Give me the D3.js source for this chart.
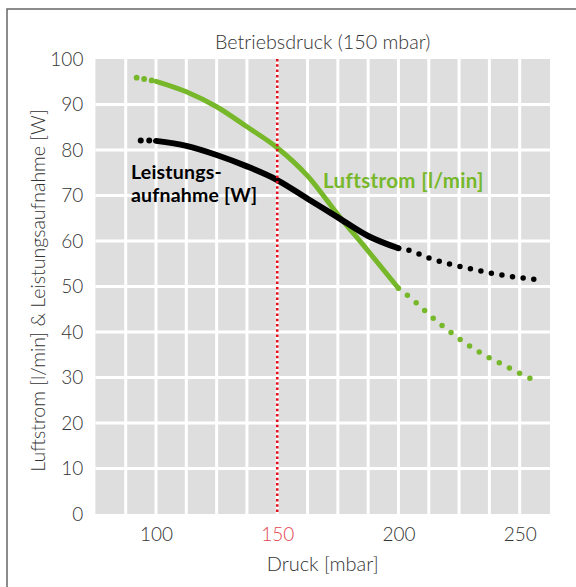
<!DOCTYPE html>
<html><head><meta charset="utf-8">
<script src="https://cdn.jsdelivr.net/npm/d3@7"></script>
<style>
html,body{margin:0;padding:0;background:#fff;}
svg{display:block;}
text{font-family:"Lato","Open Sans",sans-serif;}
</style></head>
<body>
<svg id="c" width="576" height="587"></svg>
<script>
// ---- data ----
const xTicks = [100, 150, 200, 250];
const yTicks = [0, 10, 20, 30, 40, 50, 60, 70, 80, 90, 100];
const xGrid = [87.5, 100, 112.5, 125, 137.5, 150, 162.5, 175, 187.5, 200, 212.5, 225, 237.5, 250];
const yGrid = [10, 20, 30, 40, 50, 60, 70, 80, 90];

const pressure = [100, 112.5, 125, 137.5, 150, 162.5, 175, 187.5, 200];
const luftstrom = [95.1, 92.8, 89.5, 85.1, 80.5, 74.3, 65.8, 57.8, 49.6];
const leistung = [82.0, 80.9, 78.9, 76.4, 73.4, 69.3, 65.2, 61.1, 58.4];

const luftStartP = [92, 95.1, 98.2];
const luftStartV = [95.9, 95.6, 95.3];
const leistStartP = [93.7, 97.2];
const leistStartV = [82.1, 82.1];

const luftTailP = [200, 206.1, 212.9, 220, 227.5, 235.2, 242.4, 250.4, 254.3];
const luftTailV = [49.6, 47.0, 43.7, 40.6, 37.6, 35.0, 33.0, 30.8, 29.8];
const leistTailP = [200, 203.5, 211.8, 220.6, 229.6, 238.5, 247.6, 255.9];
const leistTailV = [58.4, 58.1, 56.4, 55.0, 53.9, 52.9, 52.1, 51.6];

const operatingPressure = 150;

// ---- drawing ----
const svg = d3.select("#c");
const x = d3.scaleLinear().domain([75, 262.5]).range([95.4, 550]);
const y = d3.scaleLinear().domain([0, 100]).range([514, 59]);

const GREEN = "#76b82a";
const TXT = "#333";

// frame
svg.append("path").attr("d", "M7,600 L7,9 L600,9").attr("fill", "none")
  .attr("stroke", "#666").attr("stroke-width", 1.5);

// plot background
svg.append("rect").attr("x", x(75)).attr("y", y(100))
  .attr("width", x(262.5) - x(75)).attr("height", y(0) - y(100)).attr("fill", "#dedede");

// grid
svg.append("g").selectAll("line").data(xGrid).join("line")
  .attr("x1", d => x(d)).attr("x2", d => x(d)).attr("y1", y(100)).attr("y2", y(0))
  .attr("stroke", "#fff").attr("stroke-width", 3);
svg.append("g").selectAll("line").data(yGrid).join("line")
  .attr("x1", x(75)).attr("x2", x(262.5)).attr("y1", d => y(d)).attr("y2", d => y(d))
  .attr("stroke", "#fff").attr("stroke-width", 3);

// axes labels
const yAxis = d3.axisLeft(y).tickValues(yTicks).tickSize(0).tickPadding(12);
const gy = svg.append("g").attr("transform", `translate(${x(75)},0)`).call(yAxis);
gy.select(".domain").remove();
gy.selectAll("text").attr("font-size", 19).attr("fill", TXT)
  .style("font-family", "Lato, sans-serif").attr("font-weight", 300);

const xAxis = d3.axisBottom(x).tickValues(xTicks).tickSize(0).tickPadding(14);
const gx = svg.append("g").attr("transform", `translate(0,${y(0)})`).call(xAxis);
gx.select(".domain").remove();
gx.selectAll("text").attr("font-size", 19)
  .attr("fill", d => d === operatingPressure ? "#e2454f" : TXT)
  .style("font-family", "Lato, sans-serif").attr("font-weight", 300);

// titles
const cx = (x(75) + x(262.5)) / 2;
svg.append("text").attr("x", cx).attr("y", 49).attr("text-anchor", "middle")
  .attr("font-size", 19.7).attr("font-weight", 300).attr("fill", TXT).text("Betriebsdruck (150 mbar)");
svg.append("text").attr("x", cx).attr("y", 571).attr("text-anchor", "middle")
  .attr("font-size", 20).attr("font-weight", 300).attr("fill", TXT).text("Druck [mbar]");
svg.append("text").attr("transform", `translate(45,${(y(0) + y(100)) / 2 + 4}) rotate(-90)`)
  .attr("text-anchor", "middle").attr("font-size", 19.5).attr("font-weight", 300).attr("fill", TXT)
  .text("Luftstrom [l/min] & Leistungsaufnahme [W]");

// lines
const line = d3.line().x(d => x(d[0])).y(d => y(d[1])).curve(d3.curveMonotoneX);
const zip = (a, b) => a.map((v, i) => [v, b[i]]);

// solid lines
svg.append("path").datum(zip(pressure, luftstrom)).attr("d", line)
  .attr("fill", "none").attr("stroke", GREEN).attr("stroke-width", 5).attr("stroke-linecap", "round");
svg.append("path").datum(zip(pressure, leistung)).attr("d", line)
  .attr("fill", "none").attr("stroke", "#000").attr("stroke-width", 6).attr("stroke-linecap", "round");

// dotted tails: spacing chosen so that dots fall on both ends
function dotted(p, v, color, width, spacing) {
  const path = svg.append("path").datum(zip(p, v)).attr("d", line)
    .attr("fill", "none").attr("stroke", color).attr("stroke-width", width)
    .attr("stroke-linecap", "round");
  const L = path.node().getTotalLength();
  const n = Math.max(1, Math.round(L / spacing));
  path.attr("stroke-dasharray", `0 ${(L / n) - 0.02}`);
}
dotted(luftTailP, luftTailV, GREEN, 5.5, 11.3);
dotted(leistTailP, leistTailV, "#000", 5.5, 10.8);

// start dots
svg.append("g").selectAll("circle").data(zip(luftStartP, luftStartV)).join("circle")
  .attr("cx", d => x(d[0])).attr("cy", d => y(d[1])).attr("r", 2.9).attr("fill", GREEN);
svg.append("g").selectAll("circle").data(zip(leistStartP, leistStartV)).join("circle")
  .attr("cx", d => x(d[0])).attr("cy", d => y(d[1])).attr("r", 3).attr("fill", "#000");

// operating pressure line
svg.append("line").attr("x1", x(operatingPressure)).attr("x2", x(operatingPressure))
  .attr("y1", y(100)).attr("y2", y(0)).attr("stroke", "#e3101e").attr("stroke-width", 2.6)
  .attr("stroke-dasharray", "2.5 2.8");

// series labels
svg.append("text").attr("x", 131).attr("y", 178.5).attr("font-size", 19.5)
  .attr("font-weight", 700).attr("letter-spacing", 0.2).attr("fill", "#000").text("Leistungs-");
svg.append("text").attr("x", 131).attr("y", 202).attr("font-size", 19.5)
  .attr("font-weight", 700).attr("letter-spacing", 0.2).attr("fill", "#000").text("aufnahme [W]");
svg.append("text").attr("x", 323).attr("y", 188).attr("font-size", 20.5)
  .attr("letter-spacing", 0.35)
  .attr("font-weight", 700).attr("fill", GREEN).text("Luftstrom [l/min]");
</script>
</body></html>
